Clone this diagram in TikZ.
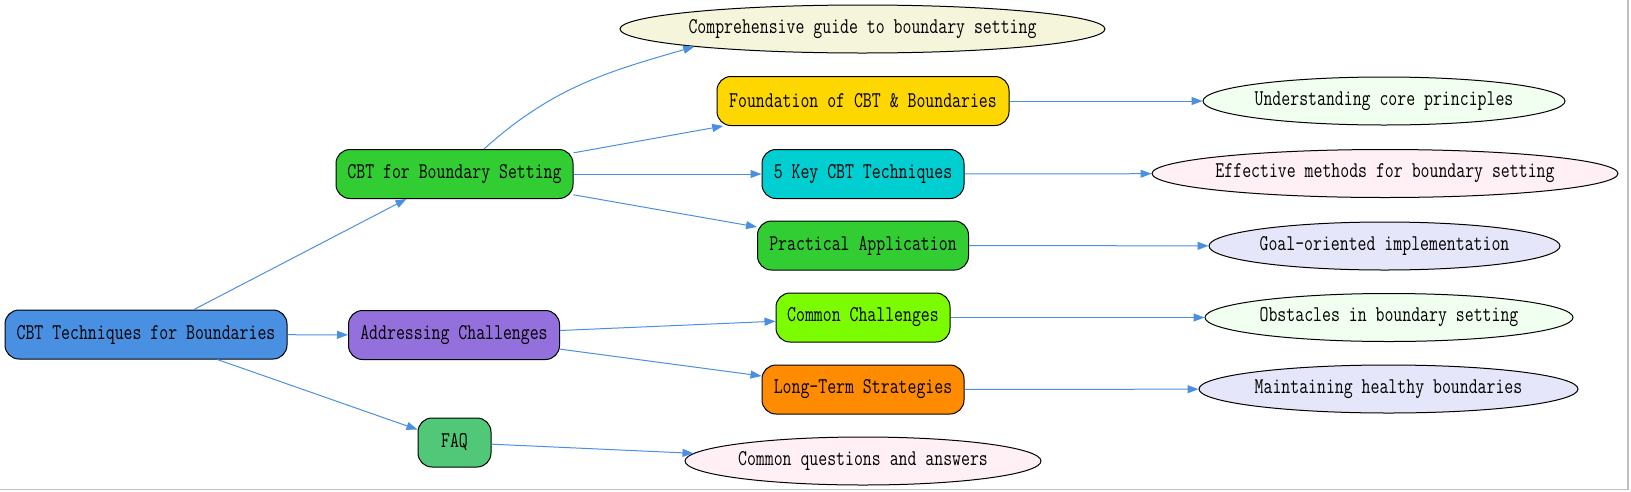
\documentclass[tikz,border=0pt]{standalone}
\usepackage{fontspec}
\setmainfont{Latin Modern Mono}[FakeStretch=0.77]
\usepackage{xcolor}
\usepackage{tikz}
\usetikzlibrary{arrows.meta,positioning,shapes}

\definecolor{edgeblue}{HTML}{4A90E2}
\definecolor{rootblue}{HTML}{4A90E2}
\definecolor{purplebox}{HTML}{9370DB}
\definecolor{emerald}{HTML}{50C878}
\definecolor{limebox}{HTML}{32CD32}
\definecolor{goldbox}{HTML}{FFD700}
\definecolor{turqbox}{HTML}{00CED1}
\definecolor{lawnbox}{HTML}{7CFC00}
\definecolor{orangebox}{HTML}{FF8C00}
\definecolor{beigeleaf}{HTML}{F5F5DC}
\definecolor{honeyleaf}{HTML}{F0FFF0}
\definecolor{blushleaf}{HTML}{FFF0F5}
\definecolor{lavleaf}{HTML}{E6E6FA}

\begin{document}
\begin{tikzpicture}[
    x=1pt, y=-1pt,
    font=\fontsize{22.5pt}{26pt}\selectfont,
    box/.style={rectangle, rounded corners=14pt, draw, line width=1pt, minimum height=49pt, inner xsep=4pt},
    leaf/.style={ellipse, draw, line width=1pt, minimum height=48pt, inner xsep=-20pt, inner ysep=0pt},
    edge/.style={draw=edgeblue, line width=1pt, -{Triangle[length=11pt,width=8pt]}}
]
    \useasboundingbox (0,0) rectangle (1631,491);
    \draw[gray!50, line width=1.5pt] (1628,0) -- (1628,489.5) -- (0,489.5);

    % main topics
    \node[box, fill=rootblue, minimum width=282pt] (root) at (146,334.5) {CBT Techniques for Boundaries};
    \node[box, fill=limebox, minimum width=237pt] (cbt) at (454.5,174) {CBT for Boundary Setting};
    \node[box, fill=purplebox, minimum width=211pt] (addr) at (454,335) {Addressing Challenges};
    \node[box, fill=emerald, minimum width=73pt] (faq) at (454.5,442.5) {FAQ};

    % subtopics
    \node[box, fill=goldbox, minimum width=292pt] (found) at (863,101) {Foundation of CBT \& Boundaries};
    \node[box, fill=turqbox, minimum width=202pt] (keys) at (863,174) {5 Key CBT Techniques};
    \node[box, fill=limebox, minimum width=211pt] (practice) at (863,245.5) {Practical Application};
    \node[box, fill=lawnbox, minimum width=174pt] (challenges) at (863,317.5) {Common Challenges};
    \node[box, fill=orangebox, minimum width=202pt] (longterm) at (863,389.5) {Long-Term Strategies};

    % descriptions
    \node[leaf, fill=beigeleaf, minimum width=485pt] (guide) at (862.5,29) {Comprehensive guide to boundary setting};
    \node[leaf, fill=honeyleaf, minimum width=362pt] (core) at (1384,101) {Understanding core principles};
    \node[leaf, fill=blushleaf, minimum width=466pt] (methods) at (1385,173.5) {Effective methods for boundary setting};
    \node[leaf, fill=lavleaf, minimum width=351pt] (goal) at (1384.5,246) {Goal-oriented implementation};
    \node[leaf, fill=honeyleaf, minimum width=368pt] (obstacles) at (1389,317.5) {Obstacles in boundary setting};
    \node[leaf, fill=lavleaf, minimum width=379pt] (healthy) at (1388.5,389) {Maintaining healthy boundaries};
    \node[leaf, fill=blushleaf, minimum width=356pt] (answers) at (863,461) {Common questions and answers};

    \draw[edge] (root) -- (cbt);
    \draw[edge] (root) -- (addr);
    \draw[edge] (root) -- (faq);

    \draw[edge] ([xshift=29.5pt]cbt.north) to[out=42, in=196] (guide.186);
    \draw[edge] (cbt) -- (found);
    \draw[edge] (cbt) -- (keys);
    \draw[edge] (cbt) -- (practice);
    \draw[edge] (addr) -- (challenges);
    \draw[edge] (addr) -- (longterm);
    \draw[edge] (faq) -- (answers);

    \draw[edge] (found) -- (core);
    \draw[edge] (keys) -- (methods);
    \draw[edge] (practice) -- (goal);
    \draw[edge] (challenges) -- (obstacles);
    \draw[edge] (longterm) -- (healthy);
\end{tikzpicture}
\end{document}
